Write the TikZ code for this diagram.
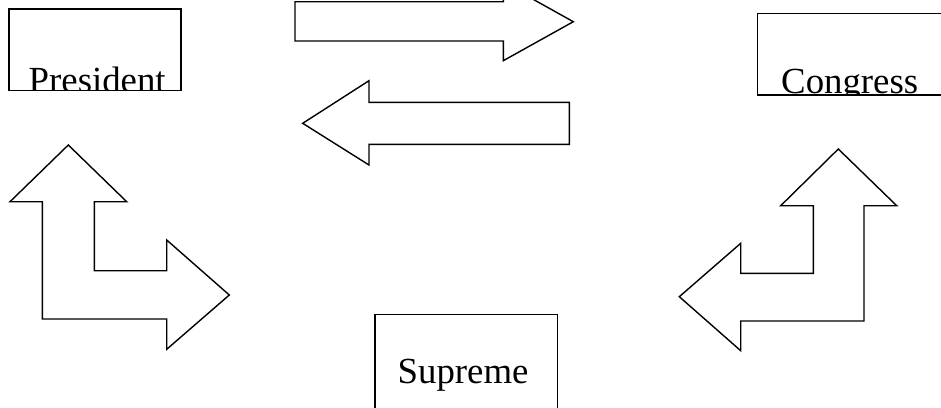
\documentclass[tikz,border=0pt]{standalone}
\usepackage{fontspec}
\setmainfont{Liberation Serif}
\begin{document}
\begin{tikzpicture}[x=1pt,y=-1pt,line join=miter,
  box/.style={draw,line width=1.5pt},
  fatarrow/.style={draw,line width=1.4pt,fill=white},
  lbl/.style={anchor=base west,inner sep=0pt,font=\fontsize{36.8}{40}\selectfont}]
\useasboundingbox (0,0) rectangle (941,407);
% boxes
\draw[box] (9,9) rectangle (181,90.5);
\begin{scope}
  \clip (9,9) rectangle (181,90.5);
  \node[lbl] (president) at (28.5,92.5) {President};
\end{scope}
\draw[box] (757.3,13.3) rectangle (960,95);
\begin{scope}
  \clip (757.3,13.3) rectangle (960,95);
  \node[lbl] (congress) at (781,93.5) {Congress};
\end{scope}
\draw[box] (375,314.3) rectangle (557.7,420);
\node[lbl] (supreme) at (397.5,383.3) {Supreme};
% horizontal arrows
\draw[fatarrow] (295,1.7) -- (503.3,1.7) -- (503.3,-17.3) -- (573.3,21.7) -- (503.3,60.7) -- (503.3,41) -- (295,41) -- cycle;
\draw[fatarrow] (302.7,123.3) -- (369,80.7) -- (369,102.3) -- (569.3,102.3) -- (569.3,144.3) -- (369,144.3) -- (369,165) -- cycle;
% bent arrows
\draw[fatarrow] (68.3,145) -- (126.7,201.7) -- (94.3,201.7) -- (94.3,270.7) -- (166.7,270.7) -- (166.7,240) -- (229.3,295) -- (166.7,349.3) -- (166.7,319) -- (42.3,319) -- (42.3,201.7) -- (10,201.7) -- cycle;
\draw[fatarrow] (838.3,149) -- (896.7,205.7) -- (864,205.7) -- (864,321) -- (740.7,321) -- (740.7,350.7) -- (679.3,296.7) -- (740.7,243.3) -- (740.7,273.3) -- (813.3,273.3) -- (813.3,205.7) -- (780.7,205.7) -- cycle;
\end{tikzpicture}
\end{document}
